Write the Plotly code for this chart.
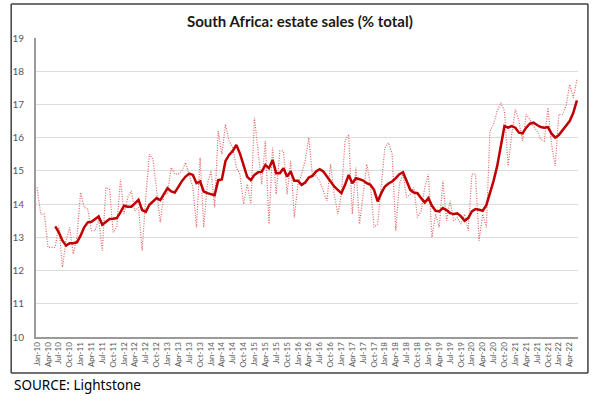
import plotly.graph_objects as go
import pandas as pd

# Monthly categories Jan-10 .. Jun-22
months = pd.date_range("2010-01-01", "2022-06-01", freq="MS")
categories = [d.strftime("%b-%y") for d in months]
tick_labels = categories[::3]

# Monthly estate sales share (% of total) - dotted series
estate_monthly = [
    14.5, 13.7, 13.7, 12.7, 12.7, 12.7, 13.35, 12.1, 12.9, 13.3, 12.5, 13.0,
    14.35, 13.9, 13.85, 13.2, 13.2, 13.55, 12.6, 14.5, 14.45, 13.15, 13.3, 14.75,
    13.7, 14.2, 14.4, 13.8, 13.9, 12.6, 14.2, 15.5, 15.35, 14.3, 13.45, 14.3,
    14.3, 15.1, 14.9, 14.9, 15.0, 15.25, 14.85, 14.5, 13.3, 15.4, 13.3, 14.6,
    15.0, 13.9, 16.2, 15.5, 16.4, 15.9, 15.7, 15.1, 14.9, 14.0, 14.6, 14.0,
    16.6, 15.5, 14.6, 15.9, 13.4, 15.7, 14.3, 15.6, 15.6, 14.3, 15.3, 13.6,
    14.6, 14.9, 15.3, 16.0, 14.85, 14.85, 14.7, 14.4, 14.1, 15.2, 14.3, 13.7,
    14.3, 15.9, 16.1, 13.7, 15.1, 13.4, 14.4, 15.2, 14.6, 13.3, 13.4, 14.6,
    15.7, 15.85, 15.5, 13.2, 14.6, 14.9, 14.2, 14.3, 14.5, 13.6, 13.8, 14.5,
    14.9, 13.0, 13.7, 13.3, 14.7, 13.5, 14.1, 13.5, 13.6, 13.4, 13.7, 13.2,
    14.9, 14.9, 12.9, 13.7, 13.3, 16.2, 16.4, 16.8, 17.05, 16.8, 15.15, 16.1,
    16.85, 16.5, 15.9, 16.7, 16.55, 16.35, 16.2, 15.95, 15.9, 16.9, 15.8, 15.15,
    16.7, 16.7, 16.95, 17.6, 17.2, 17.75,
]

# Smoothed series (solid line), starting Jun-10
ma_start = 5
estate_smoothed = [
    13.33, 13.15, 12.9, 12.75, 12.82, 12.82, 12.85,
    13.05, 13.3, 13.45, 13.47, 13.55, 13.63, 13.38, 13.48, 13.55, 13.56, 13.58, 13.75,
    13.95, 13.92, 13.92, 14.02, 14.13, 13.82, 13.77, 13.98, 14.08, 14.18, 14.12, 14.3,
    14.48, 14.38, 14.35, 14.52, 14.7, 14.83, 14.92, 14.88, 14.63, 14.68, 14.38, 14.33,
    14.3, 14.27, 14.72, 14.74, 15.3, 15.48, 15.6, 15.78, 15.52, 15.15, 14.82, 14.72,
    14.88, 14.96, 14.97, 15.18, 15.08, 15.33, 14.93, 14.93, 15.08, 14.83, 14.98, 14.7,
    14.7, 14.58, 14.65, 14.8, 14.85, 14.98, 15.05, 14.98, 14.83, 14.68, 14.53, 14.43,
    14.33, 14.58, 14.88, 14.63, 14.78, 14.75, 14.71, 14.63, 14.58, 14.43, 14.08, 14.33,
    14.53, 14.62, 14.68, 14.78, 14.9, 14.96, 14.68, 14.43, 14.35, 14.33, 14.18, 14.05,
    14.18, 13.95, 13.8, 13.78, 13.88, 13.82, 13.73, 13.7, 13.72, 13.63, 13.5, 13.58,
    13.78, 13.85, 13.83, 13.8, 13.97, 14.3, 14.7, 15.15, 15.8, 16.35, 16.3, 16.35,
    16.3, 16.15, 16.13, 16.3, 16.42, 16.45, 16.38, 16.32, 16.3, 16.32, 16.12, 16.0,
    16.08, 16.22, 16.35, 16.5, 16.75, 17.12,
]

y_ticks = list(range(10, 20))

fig = go.Figure()
fig.add_trace(go.Scatter(
    x=categories, y=estate_monthly, mode="lines",
    line=dict(color="#e06666", width=1.2, dash="1px,1.5px"),
    showlegend=False, hoverinfo="skip",
))
fig.add_trace(go.Scatter(
    x=categories[ma_start:], y=estate_smoothed, mode="lines",
    line=dict(color="#c00000", width=2.5),
    showlegend=False, hoverinfo="skip",
))

L, R, T, B = 32, 22, 38, 63
W, H = 600, 400
pw, ph = W - L - R, H - T - B

def px(x):
    return (x - L) / pw

def py(y):
    return (H - B - y) / ph

fx0, fx1, fy0, fy1 = px(7), px(588), py(373), py(4)
frame_line = dict(color="#404040", width=1.5)
frame = [
    dict(type="line", xref="paper", yref="paper", x0=fx0, x1=fx1, y0=fy0, y1=fy0, line=frame_line),
    dict(type="line", xref="paper", yref="paper", x0=fx0, x1=fx1, y0=fy1, y1=fy1, line=frame_line),
    dict(type="line", xref="paper", yref="paper", x0=fx0, x1=fx0, y0=fy0, y1=fy1, line=frame_line),
    dict(type="line", xref="paper", yref="paper", x0=fx1, x1=fx1, y0=fy0, y1=fy1, line=frame_line),
]

fig.update_layout(
    width=W, height=H,
    margin=dict(l=L, r=R, t=T, b=B),
    paper_bgcolor="white", plot_bgcolor="white",
    xaxis=dict(
        type="category", range=[-0.3, 149.3],
        tickmode="array", tickvals=tick_labels, ticktext=tick_labels,
        tickangle=-90, tickfont=dict(family="Lato, sans-serif", size=8, color="#595959"),
        showgrid=False, showline=True, linecolor="#9a9a9a", linewidth=2,
        ticks="", zeroline=False,
    ),
    yaxis=dict(
        range=[10, 19], tickvals=y_ticks,
        tickfont=dict(family="Lato, sans-serif", size=10, color="#595959"),
        showgrid=True, gridcolor="#dcdcdc", gridwidth=1,
        showline=True, linecolor="#9a9a9a", linewidth=2,
        ticks="", ticklabelstandoff=8, zeroline=False,
    ),
    shapes=frame,
    annotations=[
        dict(text="<b>South Africa: estate sales (% total)</b>",
             xref="paper", yref="paper", x=px(298), y=py(21),
             xanchor="center", yanchor="middle", showarrow=False,
             font=dict(family="Lato, sans-serif", size=15, color="#1a1a1a")),
        dict(text="SOURCE: Lightstone",
             xref="paper", yref="paper", x=px(8), y=py(385),
             xanchor="left", yanchor="middle", showarrow=False,
             font=dict(family="Noto Sans, sans-serif", size=13.5, color="#000000")),
    ],
)

fig.write_html("out.html", config={"displayModeBar": False},
               post_script="document.body.style.margin='0';")
